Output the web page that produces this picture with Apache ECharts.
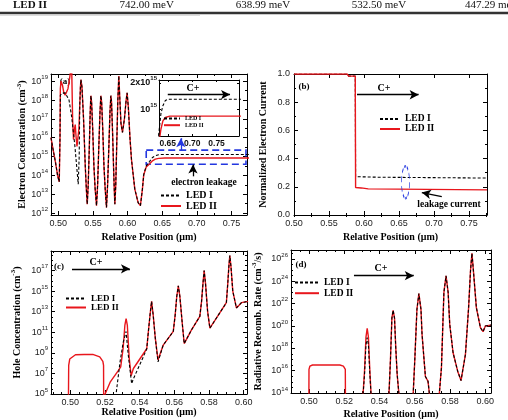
<!DOCTYPE html>
<html><head><meta charset="utf-8">
<script src="https://cdn.jsdelivr.net/npm/echarts@6/dist/echarts.min.js"></script>
<style>html,body{margin:0;padding:0;background:#fff}#c{width:508px;height:420px}</style>
</head><body><div id="c"></div><script>
const RED = '#e8161c', BLUE = '#2337e0';
const SERIF = '"Liberation Serif","Times New Roman",serif';
const SANS = '"Liberation Sans",Arial,sans-serif';

// ---------- tick labels ----------
const xTicksAB = [0.50, 0.55, 0.60, 0.65, 0.70, 0.75];
const yTicksA = [1e12, 1e13, 1e14, 1e15, 1e16, 1e17, 1e18, 1e19];
const xTicksInset = [0.65, 0.70, 0.75];
const yTicksInset = [1e15, 2e15];
const yTicksB = [0, 0.2, 0.4, 0.6, 0.8, 1.0];
const xTicksCD = [0.50, 0.52, 0.54, 0.56, 0.58, 0.60];
const yTicksC = [1e5, 1e7, 1e9, 1e11, 1e13, 1e15, 1e17];
const yTicksD = [1e14, 1e16, 1e18, 1e20, 1e22, 1e24, 1e26];

// ---------- (a) electron concentration ----------
const aStart = [[0.4895,1e16],[0.492,3e15],[0.496,5e14],[0.499,1e14],[0.5014,4.6e13],[0.5025,1e16]];
const aLedIIFront = [[0.503,4e18],[0.504,1e19],[0.506,6.3e18],[0.508,2.5e18],[0.510,1.8e18],[0.512,2e18],[0.514,4e18],[0.5165,1.5e19],[0.518,4e19],[0.5195,3e19],[0.5207,1e17],[0.522,8e15],[0.5235,3e16],[0.5245,5e16],[0.5258,1e16],[0.527,3.5e15],[0.5285,4e15],[0.5298,3e16],[0.531,5e17],[0.532,5e18]];
const aLedIFront = [[0.503,1.8e18],[0.505,2.3e18],[0.510,2.4e18],[0.512,2.2e18],[0.5155,1e18],[0.5192,1.4e17],[0.524,3.6e15],[0.527,2e14],[0.5288,3.4e13],[0.5302,1e15],[0.531,5e17],[0.532,5e18]];
const aMiddle = [[0.5327,1.2e19],[0.5342,5e18],[0.5365,1e17],[0.539,3e14],[0.5405,2e13],[0.5418,3e12],[0.5432,3e13],[0.5448,3e15],[0.5462,3e17],[0.5471,1.7e18],[0.5481,8e17],[0.5497,3e16],[0.5515,3e14],[0.5532,2e13],[0.5552,2.5e12],[0.5568,3e13],[0.5585,3e15],[0.5603,2.5e17],[0.5615,1.7e18],[0.5626,8e17],[0.5642,3e16],[0.566,3e14],[0.5677,2e13],[0.5696,2e12],[0.5712,3e13],[0.573,3e15],[0.5747,2.5e17],[0.5759,1.7e18],[0.5769,8e17],[0.5784,2e16],[0.5798,3e14],[0.5808,2e13],[0.5817,3e12],[0.583,3e13],[0.5845,6e15],[0.586,1e18],[0.5874,1.9e19],[0.5887,1.6e18],[0.5905,6e16],[0.5927,1.9e16],[0.5955,1e17],[0.598,1e18],[0.5994,2.4e18],[0.6012,4e17],[0.6035,1e16],[0.6057,7e14],[0.6105,1.9e13],[0.6153,3.6e12],[0.6186,2.5e12],[0.6215,1.9e13],[0.6234,1.1e14]];
const aLedIITail = [[0.627,2.8e14],[0.632,4.2e14],[0.636,6e14],[0.640,7.4e14],[0.645,8.1e14],[0.654,8.4e14],[0.80,8.4e14]];
const aLedITail = [[0.627,3.2e14],[0.632,5.6e14],[0.636,9e14],[0.640,1.1e15],[0.645,1.26e15],[0.650,1.3e15],[0.80,1.3e15]];

// ---------- (b) normalized electron current ----------
const bLedI = [[0.50,1.0],[0.576,1.0],[0.578,0.985],[0.5875,0.985],[0.588,0.272],[0.62,0.268],[0.7757,0.262]];
const bLedII = [[0.50,1.0],[0.576,1.0],[0.578,0.985],[0.5875,0.985],[0.588,0.195],[0.596,0.192],[0.606,0.185],[0.7757,0.178]];

// ---------- (c) hole concentration ----------
const cLedIIFront = [[0.4989,1e3],[0.4991,6e7],[0.4997,2.5e8],[0.503,6.5e8],[0.508,7e8],[0.513,7e8],[0.517,4e8],[0.5188,1.5e8],[0.5192,6e7],[0.5193,1e3],[0.5201,1e5],[0.523,1.4e6],[0.5278,2e7],[0.5291,4.3e7],[0.5305,3e9],[0.5315,5e11],[0.5322,2.1e12],[0.5329,5e11],[0.534,3e8],[0.5351,6e6],[0.5364,3e7],[0.5441,2.5e9]];
const cLedIFront = [[0.5262,5e4],[0.5287,1.3e8],[0.5305,1e10],[0.5322,1.2e11],[0.5333,1e9],[0.5354,1e6],[0.5364,3e6],[0.5421,4e8],[0.5441,2.5e9]];
const cPeak2 = [[0.545,1e11],[0.546,5e12],[0.5469,1e14],[0.5478,5e12],[0.549,3e10]];
const cLedIIValley2 = [[0.5506,2e8]];
const cLedIValley2 = [[0.5506,1.3e8]];
const cRest = [[0.5536,5.7e9],[0.5594,1.2e11],[0.5605,5e12],[0.5614,3e14],[0.5623,3.3e15],[0.5632,3e14],[0.5645,1e12],[0.5657,8e9],[0.5699,1.7e11],[0.5747,3.5e12],[0.5757,1e14],[0.5765,5e15],[0.5772,1e17],[0.578,5e15],[0.5792,1e13],[0.5805,2.5e11],[0.5862,7.6e12],[0.59,7.5e13],[0.5908,5e15],[0.5914,2e17],[0.592,2.9e18],[0.5927,2e17],[0.5937,1e15],[0.5958,2.3e13],[0.5987,7.5e13],[0.6025,1e14]];

// ---------- (d) radiative recombination rate ----------
const dLedIIFront = [[0.4999,1e12],[0.5,1.3e16],[0.5005,2.5e16],[0.502,3.2e16],[0.5175,3.2e16],[0.5195,2.5e16],[0.5206,1.3e16],[0.5207,1e12],[0.5303,1e13],[0.5315,1e16],[0.5323,1e19],[0.533,6.2e19],[0.5337,1e19],[0.5345,1e16],[0.5355,1e13]];
const dLedIFront = [[0.5303,1e13],[0.5315,5e15],[0.5323,2e18],[0.533,9e18],[0.5337,2e18],[0.5345,5e15],[0.5355,1e13]];
const dRest = [[0.5451,1e13],[0.5462,1e17],[0.547,5e20],[0.5477,2.5e21],[0.5485,5e20],[0.5492,1.1e18],[0.55,4.5e15],[0.5515,1e13],[0.5588,1e13],[0.56,1e17],[0.5612,3e21],[0.5623,7.9e22],[0.5635,3e21],[0.5641,1.8e19],[0.566,3e15],[0.5675,1.1e15],[0.5689,1e13],[0.5734,1e13],[0.5751,1.8e16],[0.5765,1e23],[0.5777,3.1e24],[0.5789,1e23],[0.5798,1.4e20],[0.5817,4e17],[0.5843,9e15],[0.5862,1.3e15],[0.5887,2.8e17],[0.5905,4.4e21],[0.5916,1e25],[0.5924,3.2e26],[0.5932,1e25],[0.5949,4.4e21],[0.5972,7e19],[0.5987,3.1e19],[0.6,1e20],[0.6032,1.2e20]];

// ---------- build series data ----------
const aLedII = aStart.concat(aLedIIFront, aMiddle, aLedIITail);
const aLedI = aStart.concat(aLedIFront, aMiddle, aLedITail);
const cLedII = cLedIIFront.concat(cPeak2, cLedIIValley2, cRest);
const cLedI = cLedIFront.concat(cPeak2, cLedIValley2, cRest);
const dLedII = dLedIIFront.concat(dRest);
const dLedI = dLedIFront.concat(dRest);

// ---------- minor tick positions ----------
function linMinor(a, b, step){ const r = []; for (let v = a; v <= b + 1e-9; v += step) r.push(+v.toFixed(5)); return r; }
function logMinor(e0, e1, step){ const r = []; for (let e = e0; e <= e1 + 1e-9; e += step) r.push(Math.pow(10, e)); return r; }
const xMinorAB = linMinor(0.475, 0.775, 0.025);
const xMinorCD = linMinor(0.490, 0.600, 0.005);
const yMinorA = logMinor(11.5, 19.5, 0.5);
const yMinorB = linMinor(0, 1, 0.1);
const yMinorC = logMinor(5, 19, 0.5);
const yMinorD = logMinor(14, 27, 0.5);

// ---------- axes ----------
const xAxes = [], yAxes = [];
function tick(len, vals){ return {show:true, inside:true, length:len, customValues:vals, lineStyle:{color:'#000', width:1}}; }
function axisPair(list, grid, posA, posB, type, min, max, ticks, label, name, tickLen, minor){
  const base = {gridIndex:grid, type:type, min:min, max:max, silent:true,
    splitLine:{show:false}, axisLine:{show:true, onZero:false, lineStyle:{color:'#000', width:1}}};
  if (type === 'log') base.logBase = 10;
  const main = Object.assign({}, base, {position:posA, axisTick:tick(tickLen, ticks),
    axisLabel:Object.assign({show:true, customValues:ticks}, label)}, name || {});
  const mirror = Object.assign({}, base, {position:posB, axisTick:tick(tickLen, ticks), axisLabel:{show:false}});
  list.push(main); const idx = list.length - 1; list.push(mirror);
  if (minor) {
    [posA, posB].forEach(p => list.push(Object.assign({}, base, {position:p, axisLine:{show:false},
      axisTick:tick(2, minor), axisLabel:{show:false}})));
  }
  return idx;
}
const numX = {fontFamily:SANS, fontSize:9, color:'#222', margin:4, formatter:v => v.toFixed(2)};
const numY = {fontFamily:SANS, fontSize:9, color:'#222', margin:4, formatter:v => v.toFixed(1)};
const logY = {margin:3, formatter:v => '{b|10}{s|' + Math.round(Math.log10(v)) + '}',
  rich:{b:{fontFamily:SANS, fontSize:9, color:'#222', lineHeight:14}, s:{fontFamily:SANS, fontSize:6, color:'#222', verticalAlign:'top'}}};
const insetX = {fontFamily:SANS, fontSize:8.5, fontWeight:'bold', color:'#111', margin:3, formatter:v => v.toFixed(2)};
const insetY = {margin:2, formatter:v => (v > 1.5e15 ? '{b|2x10}{s|15}' : '{b|10}{s|15}'),
  rich:{b:{fontFamily:SANS, fontSize:9, fontWeight:'bold', color:'#111', lineHeight:14}, s:{fontFamily:SANS, fontSize:6, fontWeight:'bold', color:'#111', verticalAlign:'top'}}};
const titleStyle = {fontFamily:SERIF, fontWeight:'bold', fontSize:10, color:'#000'};
function xName(gap){ return {name:'Relative Position (\u03bcm)', nameLocation:'middle', nameGap:gap, nameTextStyle:titleStyle}; }
function yName(pre, sup, post, gap){
  return {name:'{t|' + pre + '}{s|' + sup + '}{t|' + post + '}', nameLocation:'middle', nameGap:gap,
    nameTextStyle:Object.assign({}, titleStyle, {rich:{t:{fontFamily:SERIF, fontWeight:'bold', fontSize:10, color:'#000', lineHeight:14}, s:{fontFamily:SERIF, fontWeight:'bold', fontSize:7, color:'#000', verticalAlign:'top'}}})};
}

const grids = [
  {left:51, top:74, width:196, height:141},
  {left:159, top:80, width:80, height:56, show:true, backgroundColor:'#fff', borderWidth:0},
  {left:294, top:74, width:193, height:141},
  {left:51, top:251, width:196, height:143},
  {left:291, top:250, width:200, height:143}
];

const axA = axisPair(xAxes, 0, 'bottom', 'top', 'value', 0.4895, 0.7725, xTicksAB, numX, xName(17), 4, xMinorAB);
const ayA = axisPair(yAxes, 0, 'left', 'right', 'log', 8e11, 2.4e19, yTicksA, logY, yName('Electron Concentration (cm', '-3', ')', 21), 4, yMinorA);
const axI = axisPair(xAxes, 1, 'bottom', 'top', 'value', 0.632, 0.796, xTicksInset, insetX, null, 2);
const ayI = axisPair(yAxes, 1, 'left', 'right', 'log', 5e14, 2.15e15, yTicksInset, insetY, null, 2);
const axB = axisPair(xAxes, 2, 'bottom', 'top', 'value', 0.50, 0.7757, xTicksAB, numX, xName(17), 4, xMinorAB);
const ayB = axisPair(yAxes, 2, 'left', 'right', 'value', 0, 1, yTicksB, numY, yName('Normalized Electron Current', '', '', 24), 4, yMinorB);
const axC = axisPair(xAxes, 3, 'bottom', 'top', 'value', 0.4889, 0.6019, xTicksCD, numX, xName(12), 4, xMinorCD);
const ayC = axisPair(yAxes, 3, 'left', 'right', 'log', 1e5, 7.9e18, yTicksC, logY, yName('Hole Concentration (cm', '-3', ')', 27), 4, yMinorC);
const axD = axisPair(xAxes, 4, 'bottom', 'top', 'value', 0.4898, 0.6032, xTicksCD, numX, xName(16), 4, xMinorCD);
const ayD = axisPair(yAxes, 4, 'left', 'right', 'log', 1e14, 6.3e26, yTicksD, logY, yName('Radiative Recomb. Rate (cm', '-3', '/s)', 26), 4, yMinorD);

function line(name, data, xi, yi, extra){
  const isII = name === 'LED II';
  return Object.assign({type:'line', name:name, data:data, xAxisIndex:xi, yAxisIndex:yi,
    symbol:'none', silent:true, animation:false, z: isII ? 2 : 3,
    lineStyle: isII ? {color:RED, width:1.4, type:'solid'} : {color:'#000', width:1.1, type:[3,2]},
    itemStyle:{color: isII ? RED : '#000'}}, extra || {});
}
function arrow(color, pts){
  return {silent:true, animation:false, symbol:['none','arrow'], symbolSize:9, label:{show:false},
    lineStyle:{color:color, width:1.3, type:'solid'},
    itemStyle:{color:color},
    data:[[{coord:pts[0], symbol:'none'}, {coord:pts[1], symbol:'arrow', symbolSize:[7, 9]}]]};
}

const series = [
  line('LED II', aLedII, axA, ayA, {markLine:arrow(BLUE, [[0.677,2.2e15],[0.677,9.5e15]])}),
  line('LED I', aLedI, axA, ayA, {
    markLine:arrow('#000', [[0.6945,9e13],[0.6945,3.8e14]]),
    markArea:{silent:true, itemStyle:{color:'rgba(0,0,0,0)', borderColor:BLUE, borderWidth:1.6, borderType:[7,4]},
      data:[[{coord:[0.627,2.2e15]}, {coord:[0.771,3.9e14]}]]}}),
  line('LED II', aLedII, axI, ayI),
  line('LED I', aLedI, axI, ayI, {markLine:arrow('#000', [[0.65,1.47e15],[0.7776,1.47e15]])}),
  line('LED I', bLedI, axB, ayB, {markLine:arrow('#000', [[0.59,0.853],[0.678,0.853]])}),
  line('LED II', bLedII, axB, ayB, {z:4,
    markLine:arrow('#000', [[0.7111,0.13],[0.6826,0.159]]),
    markPoint:{silent:true, animation:false, label:{show:false},
      data:[{coord:[0.6593,0.232], symbol:'circle', symbolSize:[8,32],
        itemStyle:{color:'rgba(0,0,0,0)', borderColor:BLUE, borderWidth:1.3, borderType:[3,2]}}]}}),
  line('LED II', cLedII, axC, ayC, {markLine:arrow('#000', [[0.501,1.45e17],[0.5344,1.45e17]])}),
  line('LED I', cLedI, axC, ayC),
  line('LED II', dLedII, axD, ayD, {markLine:arrow('#000', [[0.5255,3.2e24],[0.5594,3.2e24]])}),
  line('LED I', dLedI, axD, ayD)
];

function legend(left, top, w, h, gap, fs){
  return {show:true, orient:'vertical', left:left, top:top, padding:0, itemWidth:w, itemHeight:h, itemGap:gap,
    selectedMode:false, data:['LED I','LED II'],
    itemStyle:{color:'rgba(0,0,0,0)', borderColor:'rgba(0,0,0,0)', borderWidth:0, opacity:0},
    textStyle:{fontFamily:SERIF, fontWeight:'bold', fontSize:fs, color:'#000'}};
}
function txt(x, y, s, size, align){
  return {type:'text', x:x, y:y, silent:true, style:{text:s, font:'bold ' + size + 'px ' + SERIF, fill:'#000',
    textAlign:align || 'center', align:align || 'center', textVerticalAlign:'middle', verticalAlign:'middle'}};
}
function plain(x, y, s, align, bold){
  return {type:'text', x:x, y:y, silent:true, style:{text:s, font:(bold ? 'bold ' : '') + '11px ' + SERIF, fill:'#111',
    textAlign:align, align:align, textVerticalAlign:'middle', verticalAlign:'middle'}};
}

const chart = echarts.init(document.getElementById('c'), null, {renderer:'canvas'});
chart.setOption({
  animation:false,
  backgroundColor:'#fff',
  grid:grids,
  xAxis:xAxes,
  yAxis:yAxes,
  series:series,
  legend:[
    legend(160, 190.5, 20, 12, 0.5, 10),
    legend(163, 115.5, 16, 6, 0.7, 6),
    legend(379, 114, 20, 12, 0, 9.5),
    legend(65, 294, 20, 10, 0, 9),
    legend(294, 277.5, 24, 12, 0.7, 9.5)
  ],
  graphic:[
    plain(13, 5.5, 'LED II', 'left', true),
    plain(146.7, 5.5, '742.00 meV', 'center'),
    plain(263, 5.5, '638.99 meV', 'center'),
    plain(379, 5.5, '532.50 meV', 'center'),
    plain(465, 5.5, '447.29 meV', 'left'),
    {type:'line', silent:true, shape:{x1:0, y1:13, x2:508, y2:13}, style:{stroke:'#333', lineWidth:2.5}},
    {type:'line', silent:true, shape:{x1:0, y1:15.5, x2:200, y2:15.5}, style:{stroke:'#ddd', lineWidth:1}},
    txt(65, 82, '(a)', 9),
    txt(193, 88, 'C+', 10),
    txt(204, 183, 'electron leakage', 9.5),
    txt(304, 87, '(b)', 9),
    txt(384, 88.5, 'C+', 10),
    txt(449, 205, 'leakage current', 9.5),
    txt(59, 267, '(c)', 9),
    txt(96, 262, 'C+', 10),
    txt(301, 265, '(d)', 9),
    txt(381, 268, 'C+', 10)
  ]
});
</script></body></html>
